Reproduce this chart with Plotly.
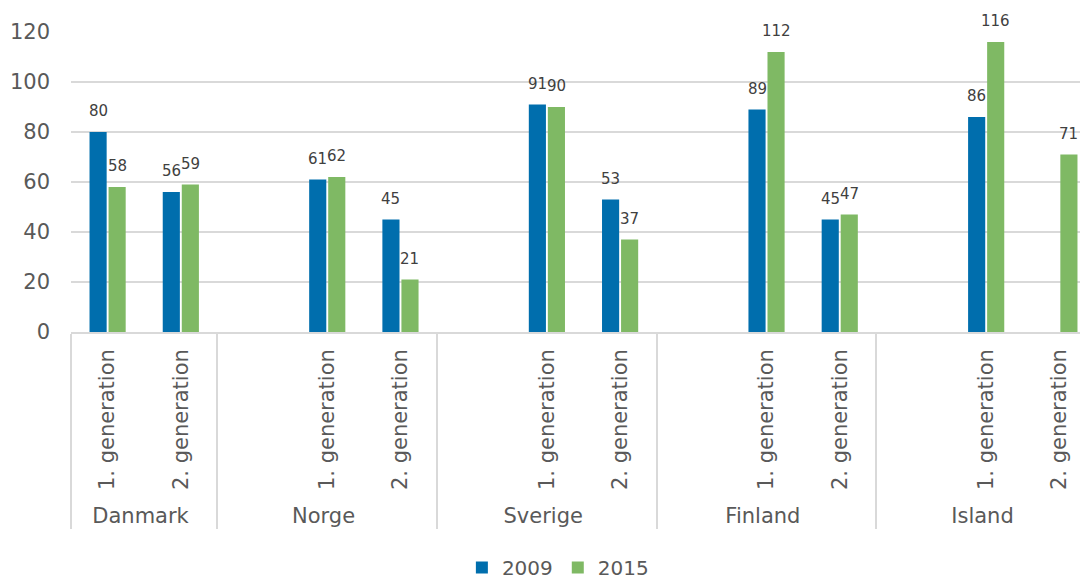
import plotly.graph_objects as go

countries = ["Danmark", "Danmark",
             "Norge", "Norge", "Norge",
             "Sverige", "Sverige", "Sverige",
             "Finland", "Finland", "Finland",
             "Island", "Island", "Island"]
# Danmark uses non-breaking spaces so that the blank spacer category
# sorts first inside the other countries
generations = ["1.\u00a0generation", "2.\u00a0generation",
               " ", "1. generation", "2. generation",
               " ", "1. generation", "2. generation",
               " ", "1. generation", "2. generation",
               " ", "1. generation", "2. generation"]
v2009 = [80, 56, None, 61, 45, None, 91, 53, None, 89, 45, None, 86, None]
v2015 = [58, 59, None, 62, 21, None, 90, 37, None, 112, 47, None, 116, 71]

blue = "#006EAD"
green = "#7FB964"
grey = "#595959"

fig = go.Figure()
series = [("2009", v2009, blue, -9.5), ("2015", v2015, green, 9.5)]
for name, vals, col, shift in series:
    fig.add_trace(go.Bar(
        x=[countries, generations], y=vals, name=name,
        marker=dict(color=col, line=dict(width=0)),
    ))
    # value labels sit a bit higher above the bars than plotly's own outside text
    for i, v in enumerate(vals):
        if v is None:
            continue
        fig.add_annotation(x=i, y=v, text=str(v), showarrow=False,
                           xshift=shift, yshift=10, yanchor="bottom",
                           font=dict(family="DejaVu Sans", size=15, color="#404040"))

# page body adds 8px offset, margins compensate
fig.update_layout(
    width=1088, height=579,
    margin=dict(l=63, r=0, t=24, b=253),
    paper_bgcolor="white", plot_bgcolor="white",
    barmode="group", bargap=0.48, bargroupgap=0.1,
    font=dict(family="DejaVu Sans", size=21, color=grey),
    showlegend=True,
    legend=dict(orientation="h", x=0.475, xanchor="center", y=-0.785, yanchor="middle",
                font=dict(size=20, color=grey), itemwidth=30),
)
fig.update_xaxes(
    type="multicategory", range=[-0.5, 13.5], automargin=False,
    showline=True, linecolor="#d9d9d9", linewidth=1.5,
    showdividers=True, dividercolor="#d9d9d9", dividerwidth=1.5,
    tickangle=-90, tickfont=dict(size=21, color=grey), ticklabelstandoff=7,
    ticks="", showgrid=False,
)
fig.update_yaxes(
    range=[0, 120], dtick=20, showgrid=True, gridcolor="#d9d9d9", gridwidth=1.5,
    automargin=False,
    zeroline=False, showline=False, ticks="", ticklabelstandoff=20,
    tickfont=dict(size=21, color=grey),
)

fig.write_html("out.html")
